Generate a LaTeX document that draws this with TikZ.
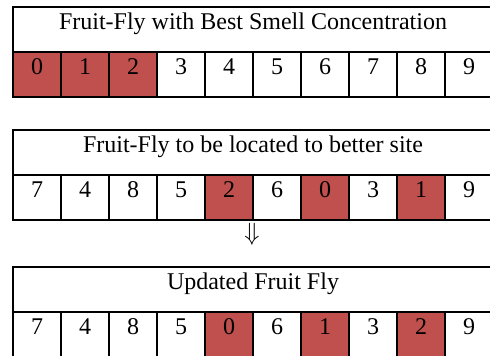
\documentclass[tikz,border=0pt]{standalone}
\usepackage{fontspec}
\setmainfont{Liberation Serif}
\definecolor{cellred}{HTML}{C0504D}
\begin{document}
\begin{tikzpicture}[x=1pt,y=-1pt,
  box/.style={draw=black,line width=2pt,outer sep=0pt,inner xsep=0pt,inner ysep=0pt,
    anchor=north west,text height=22pt,text depth=23pt,font=\fontsize{24}{28}\selectfont},
  head/.style={box,minimum width=480pt},
  cell/.style={box,minimum width=48pt},
  hot/.style={cell,fill=cellred}]
\useasboundingbox (0,0) rectangle (490,356);
% block 1
\node[head] (h1) at (13,7) {Fruit-Fly with Best Smell Concentration};
\foreach \v [count=\i from 0] in {0,1,2,3,4,5,6,7,8,9}{
  \ifnum\i<3
    \node[hot] (a\i) at (13+48*\i,52) {\v};
  \else
    \node[cell] (a\i) at (13+48*\i,52) {\v};
  \fi}
% block 2
\node[head] (h2) at (13,130) {Fruit-Fly to be located to better site};
\foreach \v/\f [count=\i from 0] in {7/0,4/0,8/0,5/0,2/1,6/0,0/1,3/0,1/1,9/0}{
  \ifnum\f=1
    \node[hot] (b\i) at (13+48*\i,175) {\v};
  \else
    \node[cell] (b\i) at (13+48*\i,175) {\v};
  \fi}
% arrow
\node[font=\fontsize{24}{28}\selectfont,inner sep=0pt] (arr) at (252,234) {$\Downarrow$};
% block 3
\node[head] (h3) at (13,267) {Updated Fruit Fly};
\foreach \v/\f [count=\i from 0] in {7/0,4/0,8/0,5/0,0/1,6/0,1/1,3/0,2/1,9/0}{
  \ifnum\f=1
    \node[hot] (c\i) at (13+48*\i,312) {\v};
  \else
    \node[cell] (c\i) at (13+48*\i,312) {\v};
  \fi}
\end{tikzpicture}
\end{document}
